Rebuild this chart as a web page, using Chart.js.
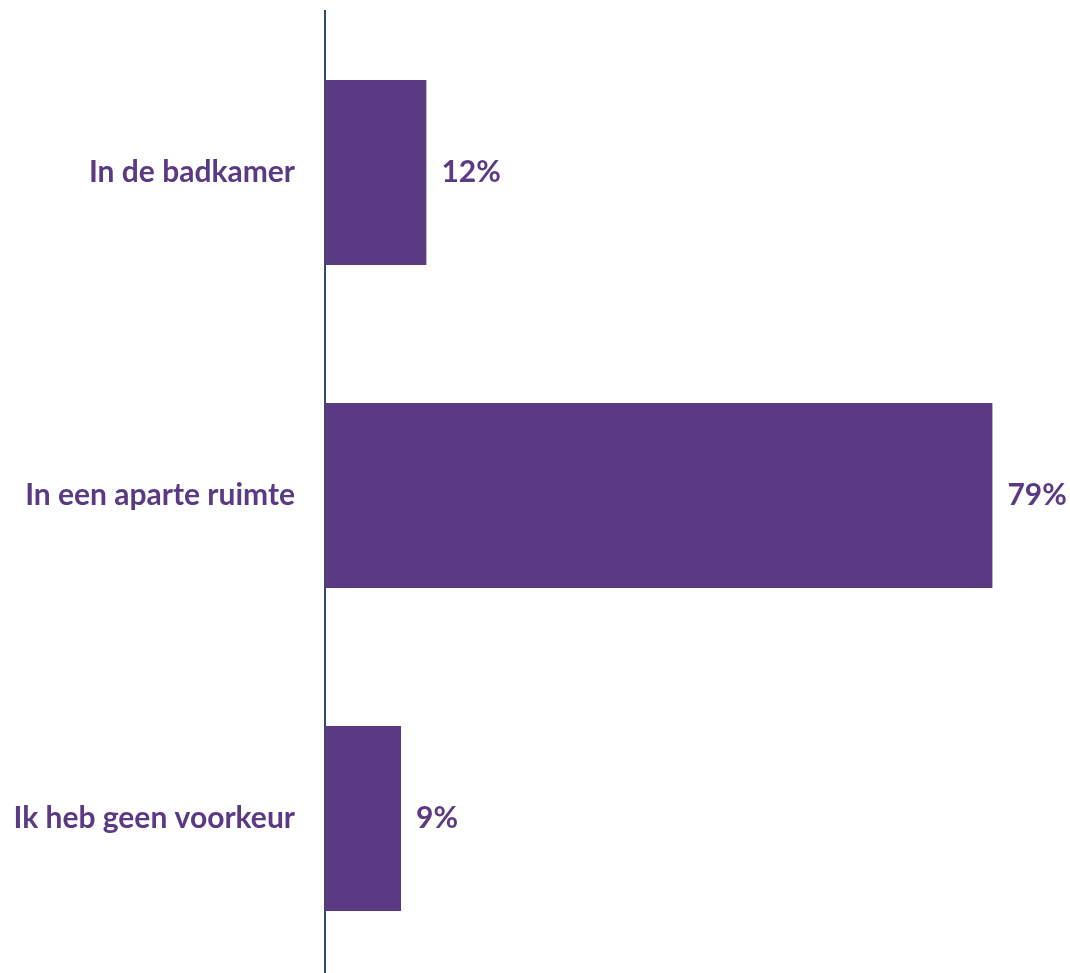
<!DOCTYPE html>
<html>
<head>
<meta charset="utf-8">
<script src="https://cdn.jsdelivr.net/npm/chart.js@4/dist/chart.umd.min.js"></script>
<style>
  html, body { margin: 0; padding: 0; background: #fff; overflow: hidden; }
  #wrap { width: 1070px; height: 990px; }
</style>
</head>
<body>
<div id="wrap"><canvas id="barChart" width="1070" height="990"></canvas></div>
<script>
// Chart data
const categories = ['In de badkamer', 'In een aparte ruimte', 'Ik heb geen voorkeur'];
const percentages = [12, 79, 9];

const purple = '#5B3A84';
const axisColor = '#2F4A6D';
const labelFont = { family: 'Lato, "Open Sans", sans-serif', size: 30, weight: 'bold' };

// Draw the percentage next to each bar
const valueLabels = {
    id: 'valueLabels',
    afterDatasetsDraw(chart) {
        const ctx = chart.ctx;
        const meta = chart.getDatasetMeta(0);
        ctx.save();
        ctx.font = 'bold 30px ' + labelFont.family;
        ctx.fillStyle = purple;
        ctx.textAlign = 'left';
        ctx.textBaseline = 'middle';
        meta.data.forEach((bar, i) => {
            ctx.fillText(percentages[i] + '%', bar.x + 15, bar.y);
        });
        ctx.restore();
    }
};

const ctx = document.getElementById('barChart').getContext('2d');
new Chart(ctx, {
    type: 'bar',
    data: {
        labels: categories,
        datasets: [{
            data: percentages,
            backgroundColor: purple,
            borderWidth: 0,
            barPercentage: 0.573,
            categoryPercentage: 1
        }]
    },
    options: {
        indexAxis: 'y',
        responsive: false,
        animation: false,
        layout: { padding: { top: 11, right: 10, bottom: 10, left: 0 } },
        plugins: {
            legend: { display: false },
            tooltip: { enabled: false }
        },
        scales: {
            x: {
                display: false,
                min: 0,
                max: 87
            },
            y: {
                grid: { display: false, drawTicks: false },
                border: { display: true, color: axisColor, width: 2 },
                ticks: { color: purple, font: labelFont, padding: 30 },
                afterFit(scale) {
                    scale.width = 325;
                    scale.paddingTop = 0;
                    scale.paddingBottom = 0;
                }
            }
        }
    },
    plugins: [valueLabels]
});
</script>
</body>
</html>
